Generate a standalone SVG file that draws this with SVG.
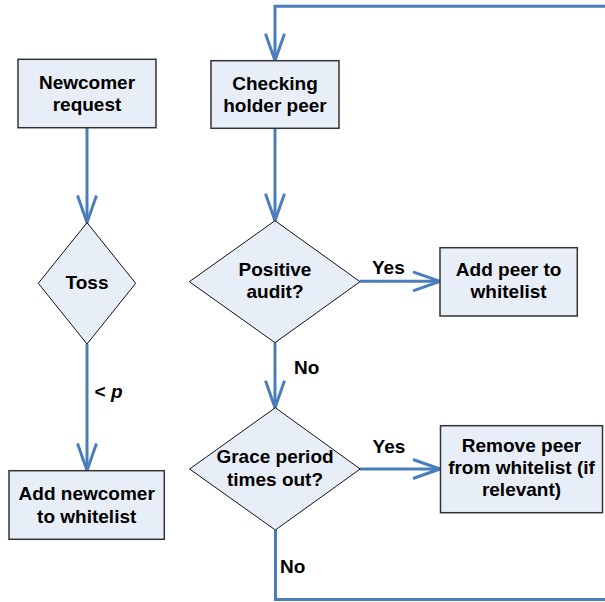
<svg xmlns="http://www.w3.org/2000/svg" width="605" height="602" viewBox="0 0 605 602">
<defs>
<style>
.box{fill:#E8EEF8;stroke:#333;stroke-width:1.5}
.dia{fill:#E8EEF8;stroke:#111;stroke-width:1}
.t{font-family:"Liberation Sans",Arial,sans-serif;font-weight:bold;font-size:19px;fill:#000;text-anchor:middle}
.lbl{font-family:"Liberation Sans",Arial,sans-serif;font-weight:bold;font-size:19px;fill:#000}
.c{fill:none;stroke:#4A7EBB;stroke-width:3}
</style>
<marker id="ah" viewBox="0 0 30 22" refX="28" refY="11" markerWidth="30" markerHeight="22" markerUnits="userSpaceOnUse" orient="auto">
<path d="M1,1.5 L28,11 L1,20.5" fill="none" stroke="#4A7EBB" stroke-width="3"/>
</marker>
</defs>
<g id="connectors">
<path class="c" d="M87,127.7 V222.5" marker-end="url(#ah)"/>
<path class="c" d="M87,344 V470.5" marker-end="url(#ah)"/>
<path class="c" d="M275,128 V220.7" marker-end="url(#ah)"/>
<path class="c" d="M275,342.7 V407.7" marker-end="url(#ah)"/>
<path class="c" d="M360,281.3 H440" marker-end="url(#ah)"/>
<path class="c" d="M360,469 H440" marker-end="url(#ah)"/>
<path class="c" d="M275.5,530 V599.5 H610 V6.3 H275 V60.7" marker-end="url(#ah)"/>
<text class="lbl" x="94.6" y="398">&lt; <tspan font-style="italic">p</tspan></text>
<text class="lbl" x="372" y="274">Yes</text>
<text class="lbl" x="294" y="374">No</text>
<text class="lbl" x="372.6" y="453.3">Yes</text>
<text class="lbl" x="280" y="573">No</text>
</g>
<g id="newcomer-request">
<rect class="box" x="18" y="59.3" width="138" height="68.4"/>
<text class="t" x="87" y="89">Newcomer</text>
<text class="t" x="87" y="111">request</text>
</g>
<g id="toss">
<polygon class="dia" points="87,222.7 135.7,283.3 87,344 38.3,283.3"/>
<text class="t" x="87" y="289">Toss</text>
</g>
<g id="add-newcomer">
<rect class="box" x="9" y="470.7" width="155.3" height="68.6"/>
<text class="t" x="86.7" y="499.5">Add newcomer</text>
<text class="t" x="86.7" y="522.7">to whitelist</text>
</g>
<g id="checking-holder-peer">
<rect class="box" x="211" y="60.7" width="128" height="67.6"/>
<text class="t" x="275" y="89.5">Checking</text>
<text class="t" x="275" y="111.5">holder peer</text>
</g>
<g id="positive-audit">
<polygon class="dia" points="275,220.7 360,281.7 275,342.7 189.3,281.7"/>
<text class="t" x="275" y="276">Positive</text>
<text class="t" x="275" y="298.3">audit?</text>
</g>
<g id="add-peer">
<rect class="box" x="440" y="247.7" width="137.3" height="68.3"/>
<text class="t" x="508.6" y="275.7">Add peer to</text>
<text class="t" x="508.6" y="298.3">whitelist</text>
</g>
<g id="grace-period">
<polygon class="dia" points="275.3,407.7 360.2,469 275.3,530 189.6,469"/>
<text class="t" x="275" y="463.3">Grace period</text>
<text class="t" x="275" y="486">times out?</text>
</g>
<g id="remove-peer">
<rect class="box" x="440.5" y="425.7" width="162" height="87"/>
<text class="t" x="521.5" y="452.3">Remove peer</text>
<text class="t" x="521.5" y="474.3">from whitelist (if</text>
<text class="t" x="521.5" y="496">relevant)</text>
</g>
</svg>
